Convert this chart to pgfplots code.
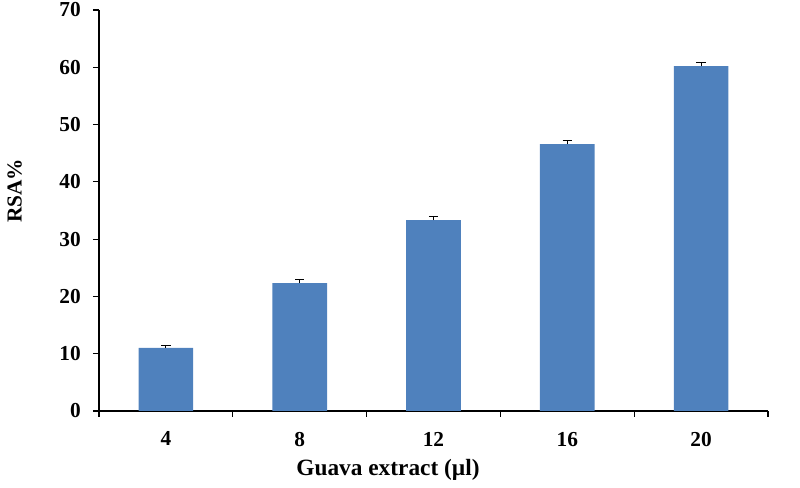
\documentclass[border=0pt]{standalone}
\usepackage{fontspec}
\setmainfont{Liberation Serif}
\usepackage{pgfplots}
\pgfplotsset{compat=1.18}
\definecolor{barblue}{HTML}{4F81BD}

\begin{document}
\begin{tikzpicture}
\begin{axis}[
  at={(0,0)}, anchor=south west,
  scale only axis,
  width=501.75pt, height=300.75pt,
  xmin=-0.5, xmax=4.5,
  ymin=0, ymax=70,
  ytick={0,10,...,70},
  xtick={0,1,2,3,4},
  xticklabels={4,8,12,16,20},
  minor xtick={-0.5,0.5,...,4.5},
  major x tick style={draw=none},
  tick align=outside,
  major tick length=4.5pt,
  minor tick length=4.5pt,
  axis x line*=bottom,
  axis y line*=left,
  axis line style={black, line width=0.9pt, -},
  tick style={black, line width=0.9pt},
  /pgf/number format/assume math mode=true,
  tick label style={font=\fontsize{16}{19}\selectfont\bfseries},
  yticklabel style={inner sep=0pt, xshift=-9pt},
  xticklabel style={inner sep=0pt, yshift=-11pt},
  xlabel={Guava extract (µl)},
  ylabel={RSA\%},
  xlabel style={font=\fontsize{17.5}{20}\selectfont\bfseries,
    at={(axis description cs:0.432,-0.147)}, anchor=center},
  ylabel style={font=\fontsize{16}{19}\selectfont\bfseries,
    at={(axis description cs:-0.126,0.549)}, anchor=center},
  ybar, bar width=41pt,
  clip=false,
]
\addplot[fill=barblue, draw=none,
  error bars/.cd, y dir=plus, y explicit,
  error bar style={black, line width=0.7pt},
  error mark options={black, line width=0.7pt, rotate=90, mark size=3.5pt}]
  coordinates {
    (0,11.0) +- (0,0.5)
    (1,22.3) +- (0,0.6)
    (2,33.3) +- (0,0.6)
    (3,46.6) +- (0,0.6)
    (4,60.2) +- (0,0.6)
  };
\end{axis}
\pgfresetboundingbox
\path (-74.25pt,-57.75pt) rectangle (525.75pt,308.25pt);
\end{tikzpicture}
\end{document}
